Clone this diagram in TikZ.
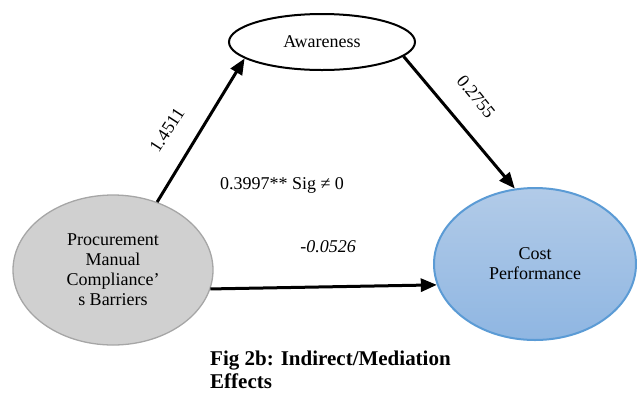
\documentclass[tikz,border=0pt]{standalone}
\usepackage{fontspec}
\setmainfont{Liberation Serif}
\usetikzlibrary{shapes.geometric,arrows.meta}
\definecolor{pgray}{RGB}{208,208,208}
\definecolor{pgrayline}{RGB}{166,166,166}
\definecolor{cpline}{RGB}{91,155,213}
\definecolor{cptop}{RGB}{178,203,232}
\definecolor{cpbot}{RGB}{143,182,226}
\begin{document}
\begin{tikzpicture}[x=1pt,y=-1pt,
  txt/.style={font=\fontsize{18}{20}\selectfont, align=center},
  conn/.style={line width=3pt, -{Triangle[length=16pt,width=13pt]}},
  lbl/.style={font=\fontsize{18}{20}\selectfont, inner sep=0pt}]
\useasboundingbox (0,0) rectangle (637,392);
\node[ellipse, draw=pgrayline, line width=1.3pt, fill=pgray, minimum width=200pt, minimum height=150pt, inner sep=0pt, txt] (pmc) at (113,270) {Procurement\\Manual\\Compliance’\\s Barriers};
\node[ellipse, draw=black, line width=2pt, fill=white, minimum width=186pt, minimum height=56pt, inner sep=0pt, txt] (aw) at (322,42) {Awareness};
\node[ellipse, draw=cpline, line width=2pt, top color=cptop, bottom color=cpbot, minimum width=202pt, minimum height=152pt, inner sep=0pt, txt] (cp) at (535,264) {Cost\\Performance};
\draw[conn] (pmc.57) -- (aw.192);
\draw[conn] (aw.-10) -- (cp.105);
\draw[conn] (pmc.-11.5) -- (cp.192);
\node[lbl, rotate=57] (l1) at (167,130) {1.4511};
\node[lbl, rotate=-51] (l2) at (476,97) {0.2755};
\node[lbl] (l3) at (282,185) {0.3997** Sig ≠ 0};
\node[lbl] (l4) at (328,247) {\itshape -0.0526};
\node[anchor=base west, inner sep=0pt, font=\fontsize{21}{23}\selectfont\bfseries, align=left] (cap) at (210,388) {Fig 2b: Indirect/Mediation\\Effects};
\end{tikzpicture}
\end{document}
